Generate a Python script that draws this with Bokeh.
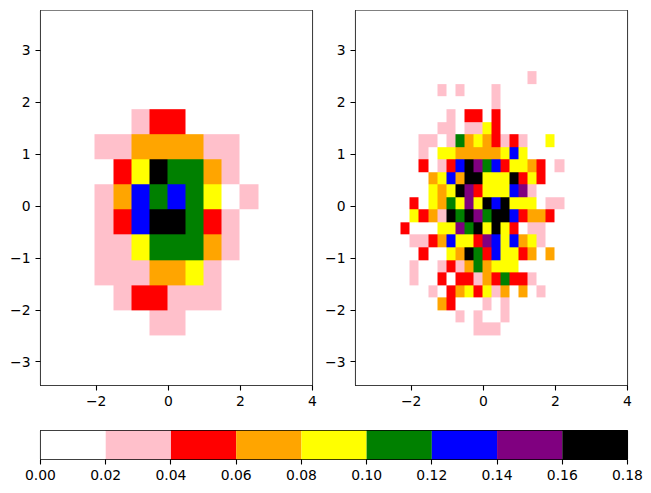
import numpy as np
from bokeh.embed import file_html
from bokeh.layouts import column, row
from bokeh.models import FixedTicker, LinearColorMapper, Range1d
from bokeh.plotting import figure
from bokeh.resources import INLINE

x_limits = [-3.545, 4.0]
y_limits = [-3.454, 3.77]
y_top_edge = 3.797
boundaries = [0.00, 0.02, 0.04, 0.06, 0.08, 0.10, 0.12, 0.14, 0.16, 0.18]
colors = ["white", "pink", "red", "orange", "yellow", "green", "blue", "purple", "black"]
x_ticks = [-2, 0, 2, 4]
y_ticks = [-3, -2, -1, 0, 1, 2, 3]

# colour band index per cell (density = band * 0.02 + 0.01), rows from top to bottom
coarse = [
    [0,0,0,0,0,0,0,0,0,0,0,0,0,0,0],
    [0,0,0,0,0,0,0,0,0,0,0,0,0,0,0],
    [0,0,0,0,0,0,0,0,0,0,0,0,0,0,0],
    [0,0,0,0,0,0,0,0,0,0,0,0,0,0,0],
    [0,0,0,0,0,1,2,2,0,0,0,0,0,0,0],
    [0,0,0,1,1,3,3,3,3,1,1,0,0,0,0],
    [0,0,0,0,2,4,8,5,5,3,1,0,0,0,0],
    [0,0,0,1,3,6,5,6,5,4,0,1,0,0,0],
    [0,0,0,1,2,6,8,8,5,2,1,0,0,0,0],
    [0,0,0,1,1,4,5,5,5,3,1,0,0,0,0],
    [0,0,0,1,1,1,3,3,4,1,0,0,0,0,0],
    [0,0,0,0,1,2,2,1,1,1,0,0,0,0,0],
    [0,0,0,0,0,0,1,1,0,0,0,0,0,0,0],
    [0,0,0,0,0,0,0,0,0,0,0,0,0,0,0],
    [0,0,0,0,0,0,0,0,0,0,0,0,0,0,0],
]
fine = [
    [0,0,0,0,0,0,0,0,0,0,0,0,0,0,0,0,0,0,0,0,0,0,0,0,0,0,0,0,0,0],
    [0,0,0,0,0,0,0,0,0,0,0,0,0,0,0,0,0,0,0,0,0,0,0,0,0,0,0,0,0,0],
    [0,0,0,0,0,0,0,0,0,0,0,0,0,0,0,0,0,0,0,0,0,0,0,0,0,0,0,0,0,0],
    [0,0,0,0,0,0,0,0,0,0,0,0,0,0,0,0,0,0,0,0,0,0,0,0,0,0,0,0,0,0],
    [0,0,0,0,0,0,0,0,0,0,0,0,0,0,0,0,0,0,0,0,0,0,0,0,0,0,0,0,0,0],
    [0,0,0,0,0,0,0,0,0,0,0,0,0,0,0,0,0,0,0,1,0,0,0,0,0,0,0,0,0,0],
    [0,0,0,0,0,0,0,0,0,1,0,1,0,0,0,1,0,0,0,0,0,0,0,0,0,0,0,0,0,0],
    [0,0,0,0,0,0,0,0,0,0,0,0,0,0,0,1,0,0,0,0,0,0,0,0,0,0,0,0,0,0],
    [0,0,0,0,0,0,0,0,0,0,1,0,2,2,0,2,0,0,0,0,0,0,0,0,0,0,0,0,0,0],
    [0,0,0,0,0,0,0,0,0,1,1,0,1,1,4,2,0,0,0,0,0,0,0,0,0,0,0,0,0,0],
    [0,0,0,0,0,0,0,1,1,0,1,5,3,4,3,2,1,2,1,0,0,4,0,0,0,0,0,0,0,0],
    [0,0,0,0,0,0,0,1,0,4,4,3,3,3,3,3,4,6,4,0,0,0,0,0,0,0,0,0,0,0],
    [0,0,0,0,0,0,0,2,0,1,2,6,8,7,5,6,2,4,4,3,2,0,1,0,0,0,0,0,0,0],
    [0,0,0,0,0,0,0,0,3,4,6,3,8,8,4,4,4,8,2,4,2,0,0,0,0,0,0,0,0,0],
    [0,0,0,0,0,0,0,0,4,3,4,8,7,2,4,4,4,6,7,1,0,0,0,0,0,0,0,0,0,0],
    [0,0,0,0,0,0,2,0,4,3,5,4,7,4,8,6,8,4,4,4,0,1,1,0,0,0,0,0,0,0],
    [0,0,0,0,0,0,4,2,3,1,8,5,8,7,5,8,8,6,2,3,3,2,0,0,0,0,0,0,0,0],
    [0,0,0,0,0,2,0,0,0,4,4,7,5,8,4,8,4,2,0,1,1,0,0,0,0,0,0,0,0,0],
    [0,0,0,0,0,0,1,1,2,3,6,4,4,2,7,6,4,6,3,4,1,0,0,0,0,0,0,0,0,0],
    [0,0,0,0,0,0,0,2,0,0,4,3,8,5,2,6,4,4,2,3,0,3,0,0,0,0,0,0,0,0],
    [0,0,0,0,0,0,1,0,0,1,2,1,3,5,3,4,4,4,0,0,0,0,0,0,0,0,0,0,0,0],
    [0,0,0,0,0,0,1,0,0,2,0,2,2,1,3,2,5,2,2,1,0,0,0,0,0,0,0,0,0,0],
    [0,0,0,0,0,0,0,0,1,0,2,3,4,2,4,1,3,0,3,0,1,0,0,0,0,0,0,0,0,0],
    [0,0,0,0,0,0,0,0,0,3,2,0,0,0,1,0,1,0,0,0,0,0,0,0,0,0,0,0,0,0],
    [0,0,0,0,0,0,0,0,0,0,0,1,0,1,0,0,1,0,0,0,0,0,0,0,0,0,0,0,0,0],
    [0,0,0,0,0,0,0,0,0,0,0,0,0,1,1,1,0,0,0,0,0,0,0,0,0,0,0,0,0,0],
    [0,0,0,0,0,0,0,0,0,0,0,0,0,0,0,0,0,0,0,0,0,0,0,0,0,0,0,0,0,0],
    [0,0,0,0,0,0,0,0,0,0,0,0,0,0,0,0,0,0,0,0,0,0,0,0,0,0,0,0,0,0],
    [0,0,0,0,0,0,0,0,0,0,0,0,0,0,0,0,0,0,0,0,0,0,0,0,0,0,0,0,0,0],
    [0,0,0,0,0,0,0,0,0,0,0,0,0,0,0,0,0,0,0,0,0,0,0,0,0,0,0,0,0,0],
]

FONT = "DejaVu Sans"
SIZE = "13.9px"
mapper = LinearColorMapper(palette=colors, low=boundaries[0], high=boundaries[-1])


def style(p, xticks, xlabels):
    p.grid.visible = False
    p.outline_line_color = "black"
    p.outline_line_width = 1.1
    p.background_fill_color = "white"
    p.border_fill_color = "white"
    for ax in p.xaxis + p.yaxis:
        ax.axis_line_color = None
        ax.major_tick_line_color = "black"
        ax.major_tick_line_width = 1.1
        ax.major_tick_in = 0
        ax.major_tick_out = 5
        ax.minor_tick_line_color = None
        ax.major_label_text_font = FONT
        ax.major_label_text_font_size = SIZE
        ax.major_label_text_color = "black"
    p.xaxis.ticker = FixedTicker(ticks=xticks)
    p.xaxis.major_label_overrides = xlabels
    p.xaxis.major_label_standoff = 5


def panel(grid, left, right, w):
    p = figure(
        width=w, height=420, output_backend="svg", toolbar_location=None,
        x_range=Range1d(*x_limits), y_range=Range1d(*y_limits),
        min_border_left=left, min_border_right=right, min_border_top=10, min_border_bottom=35,
    )
    arr = np.array(grid, dtype=float)[::-1] * 0.02 + 0.01
    p.image(image=[arr], x=x_limits[0], y=y_limits[0],
            dw=x_limits[1] - x_limits[0], dh=y_top_edge - y_limits[0],
            color_mapper=mapper)
    style(p, x_ticks, {t: str(t).replace("-", "\u2212") for t in x_ticks})
    p.yaxis.ticker = FixedTicker(ticks=y_ticks)
    p.yaxis.major_label_overrides = {t: str(t).replace("-", "\u2212") for t in y_ticks}
    p.yaxis.major_label_standoff = 5
    return p


p1 = panel(coarse, 40, 10, 322)
p2 = panel(fine, 33, 24, 329)

p3 = figure(
    width=651, height=69, output_backend="svg", toolbar_location=None,
    x_range=Range1d(boundaries[0], boundaries[-1]), y_range=Range1d(0, 1),
    min_border_left=40, min_border_right=24, min_border_top=10, min_border_bottom=30,
)
p3.quad(left=boundaries[:-1], right=boundaries[1:], bottom=0, top=1,
        fill_color=colors, line_color=None)
style(p3, boundaries, {b: f"{b:.2f}" for b in boundaries})
p3.yaxis.visible = False

layout = column(row(p1, p2, spacing=0), p3, spacing=0)
open("out.html", "w").write(file_html(layout, INLINE))
